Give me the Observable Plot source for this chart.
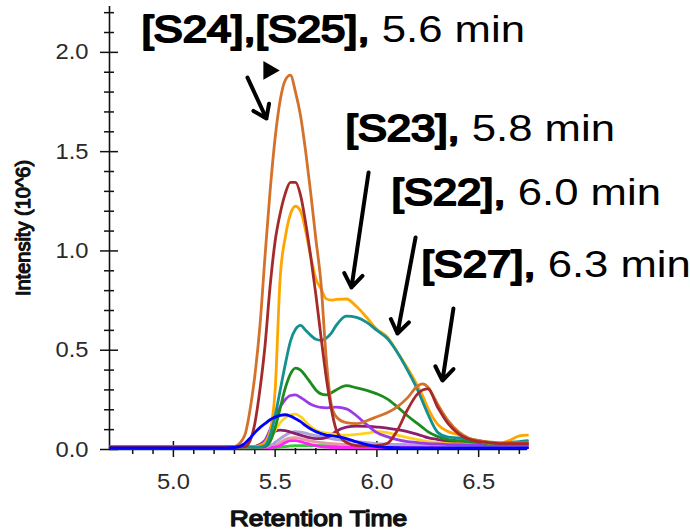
<!DOCTYPE html>
<html><head><meta charset="utf-8">
<script src="https://cdn.jsdelivr.net/npm/d3@7"></script>
<script src="https://cdn.jsdelivr.net/npm/@observablehq/plot@0.6"></script>
<style>
html,body{margin:0;padding:0;background:#fff;}
#chart{width:690px;height:531px;}
svg{display:block}
</style></head><body><div id="chart"></div>
<script>
// Retention time grid (min)
const times = [4.69, 4.9, 5.1, 5.25, 5.3, 5.35, 5.375, 5.4, 5.425, 5.45, 5.475, 5.5, 5.525, 5.55, 5.575, 5.6, 5.625, 5.65, 5.675, 5.7, 5.725, 5.75, 5.775, 5.8, 5.85, 5.9, 5.95, 6.0, 6.05, 6.1, 6.15, 6.2, 6.225, 6.25, 6.3, 6.35, 6.4, 6.45, 6.5, 6.55, 6.6, 6.65, 6.7, 6.74];

// Intensity traces (10^6)
const traceChocolate = [0.012, 0.012, 0.012, 0.012, 0.015, 0.07, 0.19, 0.37, 0.62, 0.97, 1.30, 1.57, 1.76, 1.86, 1.885, 1.80, 1.68, 1.50, 1.29, 1.06, 0.84, 0.47, 0.23, 0.165, 0.135, 0.13, 0.145, 0.165, 0.185, 0.215, 0.26, 0.32, 0.33, 0.315, 0.225, 0.145, 0.09, 0.058, 0.045, 0.038, 0.034, 0.033, 0.035, 0.035];
const traceBrown = [0.012, 0.012, 0.012, 0.012, 0.012, 0.015, 0.04, 0.13, 0.30, 0.52, 0.82, 1.05, 1.19, 1.29, 1.345, 1.345, 1.28, 1.14, 0.97, 0.78, 0.57, 0.37, 0.21, 0.10, 0.035, 0.02, 0.018, 0.02, 0.03, 0.095, 0.20, 0.28, 0.30, 0.305, 0.21, 0.13, 0.08, 0.052, 0.04, 0.035, 0.03, 0.03, 0.03, 0.03];
const traceOrange = [0.012, 0.012, 0.012, 0.012, 0.012, 0.012, 0.012, 0.015, 0.02, 0.035, 0.09, 0.30, 0.87, 1.07, 1.185, 1.225, 1.20, 1.10, 0.97, 0.86, 0.81, 0.76, 0.752, 0.756, 0.758, 0.72, 0.665, 0.605, 0.568, 0.49, 0.41, 0.32, 0.27, 0.21, 0.125, 0.09, 0.075, 0.055, 0.042, 0.032, 0.03, 0.045, 0.068, 0.072];
const traceTeal = [0.012, 0.012, 0.012, 0.012, 0.012, 0.012, 0.012, 0.012, 0.012, 0.02, 0.07, 0.17, 0.30, 0.43, 0.545, 0.605, 0.625, 0.60, 0.575, 0.555, 0.55, 0.56, 0.585, 0.625, 0.672, 0.665, 0.64, 0.60, 0.56, 0.49, 0.40, 0.30, 0.24, 0.18, 0.085, 0.062, 0.058, 0.052, 0.045, 0.035, 0.03, 0.035, 0.04, 0.045];
const traceGreen = [0.012, 0.012, 0.012, 0.012, 0.012, 0.012, 0.012, 0.012, 0.012, 0.015, 0.04, 0.11, 0.21, 0.31, 0.38, 0.41, 0.40, 0.37, 0.335, 0.30, 0.28, 0.275, 0.285, 0.30, 0.322, 0.31, 0.298, 0.28, 0.255, 0.215, 0.17, 0.13, 0.11, 0.09, 0.065, 0.05, 0.045, 0.04, 0.035, 0.03, 0.03, 0.03, 0.032, 0.033];
const tracePurple = [0.012, 0.012, 0.012, 0.012, 0.012, 0.012, 0.012, 0.012, 0.02, 0.045, 0.10, 0.165, 0.215, 0.252, 0.272, 0.275, 0.262, 0.245, 0.228, 0.218, 0.212, 0.21, 0.212, 0.213, 0.205, 0.17, 0.125, 0.085, 0.065, 0.05, 0.04, 0.035, 0.032, 0.03, 0.028, 0.025, 0.024, 0.023, 0.022, 0.022, 0.022, 0.022, 0.022, 0.022];
const traceGold = [0.012, 0.012, 0.012, 0.012, 0.012, 0.012, 0.012, 0.012, 0.012, 0.02, 0.05, 0.095, 0.135, 0.16, 0.175, 0.178, 0.165, 0.14, 0.115, 0.097, 0.088, 0.082, 0.078, 0.075, 0.072, 0.076, 0.082, 0.09, 0.085, 0.072, 0.06, 0.05, 0.045, 0.04, 0.035, 0.03, 0.028, 0.028, 0.028, 0.028, 0.028, 0.028, 0.028, 0.028];
const traceBlue = [0.008, 0.008, 0.008, 0.008, 0.01, 0.03, 0.055, 0.085, 0.11, 0.13, 0.15, 0.163, 0.172, 0.175, 0.168, 0.155, 0.14, 0.12, 0.103, 0.09, 0.08, 0.073, 0.07, 0.066, 0.055, 0.038, 0.024, 0.014, 0.01, 0.009, 0.008, 0.008, 0.008, 0.008, 0.008, 0.008, 0.008, 0.008, 0.008, 0.008, 0.008, 0.008, 0.008, 0.008];
const tracePlum = [0.012, 0.012, 0.012, 0.012, 0.012, 0.012, 0.012, 0.015, 0.025, 0.045, 0.075, 0.092, 0.098, 0.095, 0.088, 0.08, 0.072, 0.065, 0.058, 0.055, 0.055, 0.06, 0.072, 0.092, 0.113, 0.118, 0.117, 0.113, 0.108, 0.10, 0.09, 0.076, 0.068, 0.06, 0.05, 0.04, 0.035, 0.03, 0.028, 0.026, 0.025, 0.025, 0.025, 0.025];
const traceLavender = [0.012, 0.012, 0.012, 0.012, 0.012, 0.012, 0.012, 0.012, 0.012, 0.012, 0.02, 0.035, 0.055, 0.072, 0.085, 0.09, 0.088, 0.082, 0.075, 0.07, 0.065, 0.06, 0.055, 0.05, 0.045, 0.04, 0.035, 0.03, 0.028, 0.026, 0.025, 0.024, 0.023, 0.022, 0.022, 0.021, 0.02, 0.02, 0.02, 0.02, 0.02, 0.02, 0.02, 0.02];
const traceMagenta = [0.01, 0.01, 0.01, 0.01, 0.01, 0.01, 0.01, 0.01, 0.01, 0.01, 0.01, 0.012, 0.02, 0.035, 0.045, 0.045, 0.04, 0.032, 0.025, 0.02, 0.015, 0.012, 0.01, 0.01, 0.01, 0.01, 0.01, 0.01, 0.01, 0.01, 0.01, 0.01, 0.01, 0.01, 0.01, 0.01, 0.01, 0.01, 0.01, 0.01, 0.01, 0.01, 0.01, 0.01];
const tracePink = [0.012, 0.012, 0.012, 0.012, 0.012, 0.012, 0.012, 0.012, 0.012, 0.012, 0.012, 0.02, 0.035, 0.05, 0.058, 0.06, 0.055, 0.048, 0.042, 0.038, 0.035, 0.032, 0.03, 0.028, 0.025, 0.022, 0.02, 0.018, 0.018, 0.018, 0.018, 0.018, 0.018, 0.018, 0.018, 0.018, 0.018, 0.018, 0.018, 0.018, 0.018, 0.018, 0.018, 0.018];
const traceLime = [0.008, 0.008, 0.008, 0.008, 0.008, 0.008, 0.008, 0.008, 0.008, 0.008, 0.008, 0.008, 0.012, 0.015, 0.018, 0.02, 0.02, 0.02, 0.02, 0.02, 0.02, 0.02, 0.018, 0.016, 0.014, 0.012, 0.01, 0.01, 0.01, 0.01, 0.01, 0.01, 0.01, 0.01, 0.01, 0.01, 0.01, 0.01, 0.01, 0.01, 0.01, 0.01, 0.01, 0.01];

// Axis ticks
const majorX = [5.0, 5.5, 6.0, 6.5];
const minorX = [4.8, 4.9, 5.1, 5.2, 5.3, 5.4, 5.6, 5.7, 5.8, 5.9, 6.1, 6.2, 6.3, 6.4, 6.6, 6.7];
const majorY = [0.0, 0.5, 1.0, 1.5, 2.0];
const minorY = [0.1, 0.2, 0.3, 0.4, 0.6, 0.7, 0.8, 0.9, 1.1, 1.2, 1.3, 1.4, 1.6, 1.7, 1.8, 1.9, 2.1, 2.2];

// Annotations (text labels and arrows, in data units)
const annoBold = ["[S24],[S25],", "[S23],", "[S22],", "[S27],"];
const annoRest = [" 5.6 min", " 5.8 min", " 6.0 min", " 6.3 min"];
const annoX = [4.843, 5.846, 6.072, 6.219];
const annoY = [2.050, 1.556, 1.229, 0.871];
const arrowX1 = [5.364, 5.959, 6.190, 6.376];
const arrowY1 = [1.873, 1.395, 1.068, 0.710];
const arrowX2 = [5.457, 5.875, 6.101, 6.322];
const arrowY2 = [1.667, 0.816, 0.584, 0.347];
const flagX = [5.469];
const flagY = [1.909];
const xTitle = [{label: "Retention Time"}];
const yTitle = [{label: "Intensity (10^6)"}];

const xDomain = [4.686, 6.74];
const yDomain = [0, 2.231];

const series = [
  {values: traceLime, color: "#2ECC2E"},
  {values: tracePink, color: "#E89AA0"},
  {values: traceMagenta, color: "#FF22FF"},
  {values: traceLavender, color: "#A9A3D9"},
  {values: tracePlum, color: "#8B1E6E"},
  {values: traceGold, color: "#FFD21A"},
  {values: tracePurple, color: "#9B3BE8"},
  {values: traceGreen, color: "#1F8B1F"},
  {values: traceOrange, color: "#FFA500"},
  {values: traceTeal, color: "#139090"},
  {values: traceChocolate, color: "#D4712A"},
  {values: traceBrown, color: "#A52A2A"},
  {values: traceBlue, color: "#0000FF"}
];

const lineMarks = series.map(s => Plot.line(times.map((t, i) => ({t, v: s.values[i]})), {
  x: "t", y: "v", stroke: s.color, strokeWidth: 2.8, curve: "monotone-x"
}));

const annos = annoBold.map((b, i) => ({x: annoX[i], y: annoY[i], label: b + annoRest[i]}));
const arrows = arrowX1.map((x, i) => ({x1: x, y1: arrowY1[i], x2: arrowX2[i], y2: arrowY2[i]}));
const flags = flagX.map((x, i) => ({x, y: flagY[i]}));

const fmt = d3.format(".1f");

const chart = Plot.plot({
  width: 690, height: 531,
  marginLeft: 109, marginRight: 163, marginTop: 6, marginBottom: 82,
  style: {fontFamily: "'Liberation Sans', Arial, Helvetica, sans-serif", background: "white", color: "#111"},
  x: {domain: xDomain},
  y: {domain: yDomain},
  marks: [
    Plot.axisX(majorX, {tickSize: 16, dy: -8, tickPadding: 16, tickFormat: fmt, fontSize: 22, label: null, strokeWidth: 1.5}),
    Plot.axisX(minorX, {tickSize: 6, dy: -1, tickFormat: () => "", label: null, strokeWidth: 1.5}),
    Plot.axisY(majorY, {tickSize: 18, dx: 9, tickPadding: 12, tickFormat: fmt, fontSize: 22, label: null, strokeWidth: 1.5}),
    Plot.axisY(minorY, {tickSize: 10, dx: 5, tickFormat: () => "", label: null, strokeWidth: 1.5}),
    Plot.ruleX([xDomain[0]], {stroke: "#111", strokeWidth: 1.6}),
    Plot.ruleY([0], {stroke: "#111", strokeWidth: 1.6}),
    ...lineMarks,
    Plot.dot(flags, {x: "x", y: "y", symbol: "triangle", rotate: 90, r: 7, fill: "black"}),
    Plot.arrow(arrows, {x1: "x1", y1: "y1", x2: "x2", y2: "y2", stroke: "black", strokeWidth: 4, headLength: 6, headAngle: 70}),
    Plot.text(annos, {x: "x", y: "y", text: "label", textAnchor: "start", lineAnchor: "bottom", fontSize: 37, fill: "black"}),
    Plot.text(xTitle, {text: "label", frameAnchor: "bottom", textAnchor: "middle", dy: 76, lineAnchor: "bottom", fontSize: 22, fill: "#111", stroke: "#111", strokeWidth: 1.3, strokeLinejoin: "round"}),
    Plot.text(yTitle, {text: "label", frameAnchor: "left", textAnchor: "middle", dx: -86, rotate: -90, fontSize: 20, fill: "#111", stroke: "#111", strokeWidth: 1.2, strokeLinejoin: "round"})
  ]
});

document.getElementById("chart").append(chart);

function stretch(el, k) {
  const w = el.getComputedTextLength();
  if (w > 0) {
    el.setAttribute("textLength", (w * k).toFixed(1));
    el.setAttribute("lengthAdjust", "spacingAndGlyphs");
  }
}

// heavy (stroked) face for the compound names, regular face for the times
chart.querySelectorAll("text").forEach(el => {
  const s = el.textContent;
  if (s.startsWith("[S")) {
    const i = s.lastIndexOf(",") + 1;
    el.textContent = "";
    el.style.whiteSpace = "pre";
    const b = document.createElementNS("http://www.w3.org/2000/svg", "tspan");
    b.setAttribute("stroke", "black");
    b.setAttribute("stroke-width", "2.2");
    b.setAttribute("stroke-linejoin", "round");
    b.textContent = s.slice(0, i);
    const r = document.createElementNS("http://www.w3.org/2000/svg", "tspan");
    r.setAttribute("stroke", "none");
    r.textContent = s.slice(i);
    el.append(b, r);
    stretch(el, 1.18);
  } else if (s === "Retention Time") {
    stretch(el, 1.2);
  } else if (/^\d\.\d$/.test(s)) {
    el.setAttribute("fill", "#2a2a2a");
    stretch(el, 1.08);
  }
});
</script>
</body></html>
